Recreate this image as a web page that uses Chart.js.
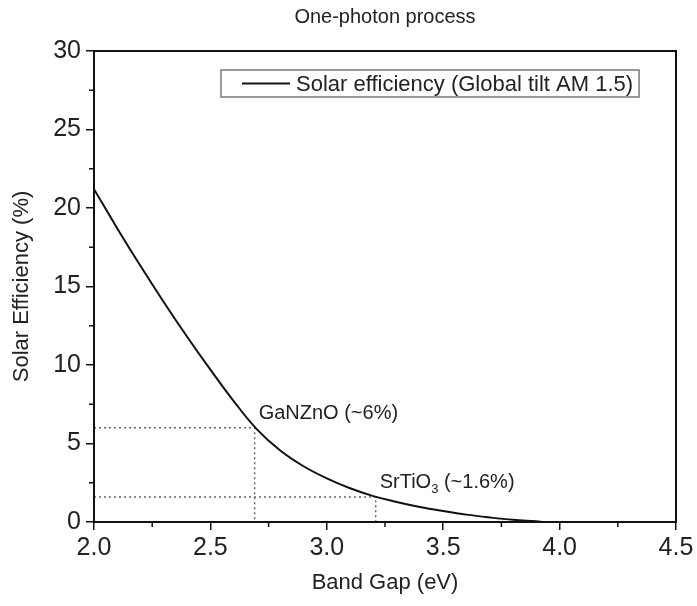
<!DOCTYPE html>
<html>
<head>
<meta charset="utf-8">
<script src="https://cdn.jsdelivr.net/npm/chart.js@4/dist/chart.umd.min.js"></script>
<style>
  html, body { margin: 0; padding: 0; background: #fff; }
</style>
</head>
<body>
<canvas id="chart" width="697" height="606"></canvas>
<script>
// band gap (eV) vs. one-photon solar efficiency (%)
const bandGap = [2.0, 2.1, 2.2, 2.3, 2.4, 2.5, 2.6, 2.7, 2.8, 2.9, 3.0,
                 3.1, 3.2, 3.3, 3.4, 3.5, 3.6, 3.7, 3.8, 3.9, 3.93];
const efficiency = [21.2, 18.7, 16.3, 14.0, 11.8, 9.7, 7.7, 5.9, 4.55, 3.55, 2.78,
                    2.15, 1.65, 1.28, 0.96, 0.7, 0.47, 0.29, 0.14, 0.04, 0];

// marked materials
const materialNames = ["GaNZnO", "SrTiO"];
const materialSubs = ["", "3"];
const materialTags = ["(~6%)", "(~1.6%)"];
const materialGap = [2.69, 3.21];
const materialEff = [6, 1.6];

// axes
const xMajor = [2.0, 2.5, 3.0, 3.5, 4.0, 4.5];
const xMinor = [2.25, 2.75, 3.25, 3.75, 4.25];
const yMajor = [0, 5, 10, 15, 20, 25, 30];
const yMinor = [2.5, 7.5, 12.5, 17.5, 22.5, 27.5];

const FONT = "'Liberation Sans', Arial, sans-serif";

const curve = bandGap.map((x, i) => ({ x: x, y: efficiency[i] }));

// dotted guides: from the y axis to the point, then down to the x axis
const guides = materialGap.map((g, i) => ({
    label: materialNames[i],
    data: [{ x: xMajor[0], y: materialEff[i] }, { x: g, y: materialEff[i] }, { x: g, y: 0 }],
    showLine: true,
    borderColor: "#666",
    borderWidth: 1.5,
    borderDash: [2, 3],
    pointRadius: 0,
    tension: 0
}));

// frame, minor ticks, legend box and material labels
const extras = {
    id: "extras",
    afterDatasetsDraw(chart) {
        const ctx = chart.ctx;
        const a = chart.chartArea;
        const xs = chart.scales.x;
        const ys = chart.scales.y;
        ctx.save();

        ctx.strokeStyle = "#111";
        ctx.lineWidth = 2;
        ctx.strokeRect(a.left, a.top, a.right - a.left, a.bottom - a.top);

        ctx.lineWidth = 1.5;
        ctx.beginPath();
        xMinor.forEach(v => {
            const px = xs.getPixelForValue(v);
            ctx.moveTo(px, a.bottom);
            ctx.lineTo(px, a.bottom + 5);
        });
        yMinor.forEach(v => {
            const py = ys.getPixelForValue(v);
            ctx.moveTo(a.left - 5, py);
            ctx.lineTo(a.left, py);
        });
        ctx.stroke();

        // legend
        const lx = a.left + 127, ly = a.top + 19, lw = 418, lh = 27;
        ctx.fillStyle = "#fff";
        ctx.fillRect(lx, ly, lw, lh);
        ctx.strokeStyle = "#777";
        ctx.lineWidth = 1.5;
        ctx.strokeRect(lx, ly, lw, lh);
        ctx.strokeStyle = "#111";
        ctx.lineWidth = 2;
        ctx.beginPath();
        ctx.moveTo(lx + 21, ly + lh / 2);
        ctx.lineTo(lx + 69, ly + lh / 2);
        ctx.stroke();
        ctx.fillStyle = "#222";
        ctx.font = "22px " + FONT;
        ctx.textBaseline = "middle";
        ctx.textAlign = "left";
        ctx.fillText(chart.data.datasets[0].label, lx + 75, ly + lh / 2 + 1);

        // material labels
        ctx.textBaseline = "alphabetic";
        materialNames.forEach((name, i) => {
            let px = xs.getPixelForValue(materialGap[i]) + 4;
            const py = ys.getPixelForValue(materialEff[i]) - 9;
            ctx.font = "20px " + FONT;
            ctx.fillText(name, px, py);
            px += ctx.measureText(name).width;
            if (materialSubs[i]) {
                ctx.font = "13px " + FONT;
                ctx.fillText(materialSubs[i], px, py + 5);
                px += ctx.measureText(materialSubs[i]).width;
            }
            ctx.font = "20px " + FONT;
            ctx.fillText(" " + materialTags[i], px, py);
        });
        ctx.restore();
    }
};

new Chart(document.getElementById("chart"), {
    type: "scatter",
    data: {
        datasets: [{
            label: "Solar efficiency (Global tilt AM 1.5)",
            data: curve,
            showLine: true,
            borderColor: "#111",
            borderWidth: 2,
            pointRadius: 0,
            tension: 0.4
        }, ...guides]
    },
    options: {
        responsive: false,
        animation: false,
        layout: { padding: { top: 0, right: 21, bottom: 0, left: 0 } },
        plugins: {
            legend: { display: false },
            tooltip: { enabled: false },
            title: {
                display: true,
                text: "One-photon process",
                fullSize: false,
                color: "#222",
                font: { family: FONT, size: 20, weight: "normal" },
                padding: { top: 5, bottom: 22 }
            }
        },
        scales: {
            x: {
                type: "linear",
                min: 2,
                max: 4.5,
                afterBuildTicks: s => { s.ticks = xMajor.map(v => ({ value: v })); },
                afterFit: s => { s.height = 84; },
                ticks: {
                    color: "#222",
                    padding: 3,
                    maxRotation: 0,
                    font: { family: FONT, size: 25 },
                    callback: v => v.toFixed(1)
                },
                grid: { drawOnChartArea: false, drawTicks: true, tickLength: 8, color: "#111", lineWidth: 1.5 },
                border: { color: "#111", width: 2 },
                title: {
                    display: true,
                    text: "Band Gap (eV)",
                    color: "#222",
                    font: { family: FONT, size: 22 },
                    padding: { top: 4, bottom: 10 }
                }
            },
            y: {
                type: "linear",
                min: 0,
                max: 30,
                afterBuildTicks: s => { s.ticks = yMajor.map(v => ({ value: v })); },
                afterFit: s => { s.width = 94; },
                ticks: {
                    color: "#222",
                    padding: 5,
                    font: { family: FONT, size: 25 },
                    callback: v => String(v)
                },
                grid: { drawOnChartArea: false, drawTicks: true, tickLength: 8, color: "#111", lineWidth: 1.5 },
                border: { color: "#111", width: 2 },
                title: {
                    display: true,
                    text: "Solar Efficiency (%)",
                    color: "#222",
                    font: { family: FONT, size: 22 },
                    padding: { top: 9, bottom: 0 }
                }
            }
        }
    },
    plugins: [extras]
});
</script>
</body>
</html>
